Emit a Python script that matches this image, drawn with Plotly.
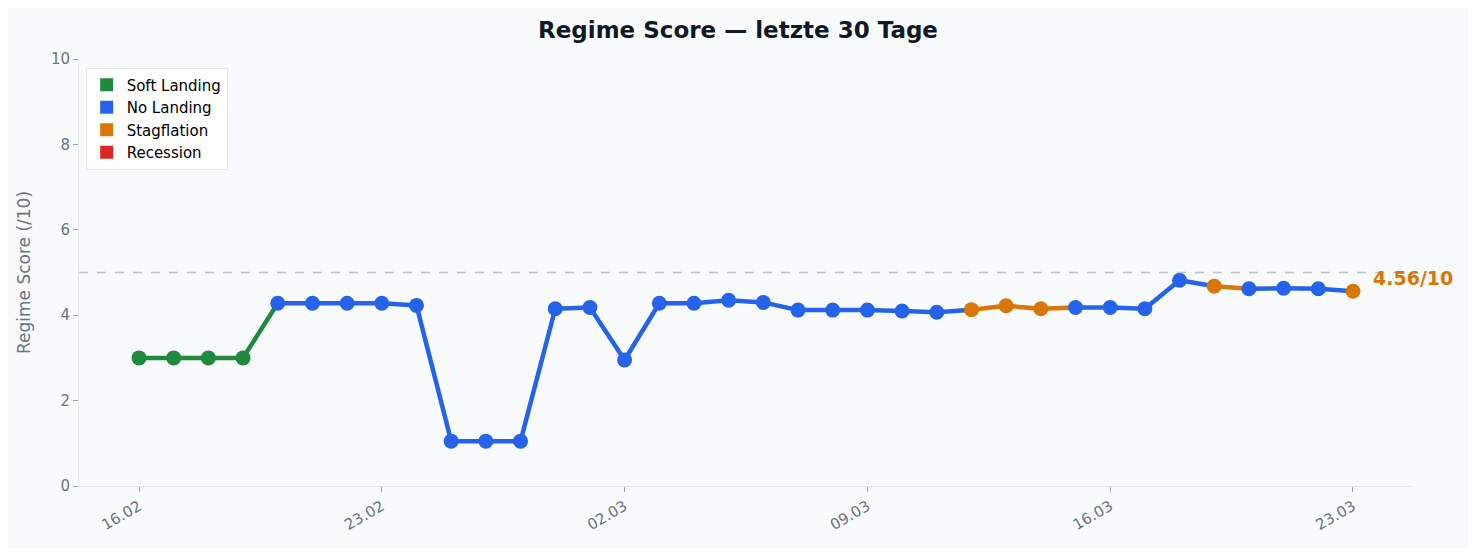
import plotly.graph_objects as go
import pandas as pd

dates = pd.date_range("2026-02-16", "2026-03-23", freq="D")
scores = [3.0, 3.0, 3.0, 3.0, 4.28, 4.28, 4.28, 4.28, 4.23, 1.05, 1.05, 1.05,
          4.15, 4.18, 2.95, 4.28, 4.28, 4.35, 4.30, 4.12, 4.12, 4.12, 4.10, 4.07,
          4.13, 4.22, 4.15, 4.18, 4.18, 4.15, 4.82, 4.68, 4.62, 4.63, 4.62, 4.56]
regimes = (["Soft Landing"] * 4 + ["No Landing"] * 20 + ["Stagflation"] * 3 +
           ["No Landing"] * 4 + ["Stagflation"] + ["No Landing"] * 3 + ["Stagflation"])
colors = {"Soft Landing": "#1f8a3d", "No Landing": "#2563eb",
          "Stagflation": "#d97706", "Recession": "#dc2626"}

fig = go.Figure()
for i in range(len(dates) - 1):
    fig.add_trace(go.Scatter(x=[dates[i], dates[i + 1]], y=[scores[i], scores[i + 1]],
                             mode="lines", line=dict(color=colors[regimes[i]], width=4.5),
                             showlegend=False, hoverinfo="skip"))
for r, c in colors.items():
    xs = [d for d, g in zip(dates, regimes) if g == r]
    ys = [s for s, g in zip(scores, regimes) if g == r]
    fig.add_trace(go.Scatter(x=xs, y=ys, mode="markers", marker=dict(color=c, size=15),
                             showlegend=False))
for r, c in colors.items():
    fig.add_trace(go.Scatter(x=[None], y=[None], mode="markers", name=r,
                             marker=dict(color=c, size=13, symbol="square")))

fig.add_hline(y=5, line=dict(color="#b8c2d0", width=1.3, dash="dash"))
fig.add_annotation(x=dates[-1], y=scores[-1], text=f"<b>{scores[-1]:.2f}/10</b>",
                   xanchor="left", yanchor="bottom", xshift=18, yshift=0, showarrow=False,
                   font=dict(color="#d97706", size=19))

fig.update_layout(
    width=1460, height=540, paper_bgcolor="#f8fafc", plot_bgcolor="#f8fafc",
    margin=dict(l=71, r=55, t=51, b=62),
    title=dict(text="<b>Regime Score — letzte 30 Tage</b>", x=0.5, y=0.975,
               font=dict(size=23, color="#111827", family="DejaVu Sans")),
    font=dict(family="DejaVu Sans", color="#6b7280", size=15),
    legend=dict(x=0.005, y=0.98, bgcolor="white", bordercolor="#e5e7eb", borderwidth=1,
                font=dict(color="black", size=15)),
    xaxis=dict(range=[dates[0] - pd.Timedelta(days=1.73), dates[-1] + pd.Timedelta(days=1.73)],
               tickvals=[dates[i] for i in range(0, 36, 7)],
               ticktext=[dates[i].strftime("%d.%m") for i in range(0, 36, 7)],
               tickangle=-30, showgrid=False, showline=True, linecolor="#e5e7eb",
               ticks="outside", tickcolor="#9ca3af", zeroline=False),
    yaxis=dict(range=[0, 10], dtick=2, showgrid=False, showline=True, linecolor="#e5e7eb",
               ticks="outside", tickcolor="#9ca3af", zeroline=False,
               title=dict(text="Regime Score (/10)", font=dict(size=17))),
)
fig.write_html("out.html")
